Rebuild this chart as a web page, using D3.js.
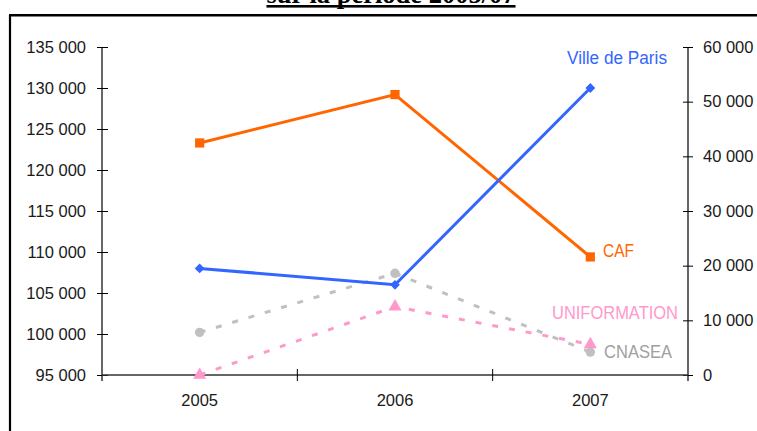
<!DOCTYPE html>
<html><head><meta charset="utf-8">
<script src="https://cdn.jsdelivr.net/npm/d3@7"></script>
<style>
html,body{margin:0;padding:0;background:#fff;overflow:hidden;}
svg{display:block;}
</style></head>
<body>
<svg id="c" width="757" height="431"></svg>
<script>
const title = "sur la période 2005/07";
const years = ["2005", "2006", "2007"];
const villeDeParis = [108000, 106000, 130000];
const caf = [123300, 129200, 109400];
const uniformation = [0, 12500, 5600];
const cnasea = [7800, 18600, 4200];
const leftTicks = [95000, 100000, 105000, 110000, 115000, 120000, 125000, 130000, 135000];
const rightTicks = [0, 10000, 20000, 30000, 40000, 50000, 60000];

const svg = d3.select("#c");
const X0 = 102, X1 = 688, Y0 = 375, Y1 = 47;

// frame
svg.append("line").attr("x1", 10).attr("x2", 10).attr("y1", 15).attr("y2", 431)
  .attr("stroke", "#000").attr("stroke-width", 2.2);
svg.append("line").attr("x1", 9).attr("x2", 757).attr("y1", 15.3).attr("y2", 15.3)
  .attr("stroke", "#000").attr("stroke-width", 2.4);

// title (cut off at top, as in the reference)
const tt = svg.append("text").attr("x", 391).attr("y", 3).attr("text-anchor", "middle")
  .attr("font-family", "Liberation Serif, serif").attr("font-weight", "bold")
  .attr("font-size", 26.5).attr("fill", "#000").text(title);
const tw = tt.node().getComputedTextLength();
svg.append("rect").attr("x", 391 - tw / 2).attr("y", 5).attr("width", tw).attr("height", 2.6).attr("fill", "#000");

const x = d3.scaleBand().domain(years).range([X0, X1]).padding(0);
const yL = d3.scaleLinear().domain([95000, 135000]).range([Y0, Y1]);
const yR = d3.scaleLinear().domain([0, 60000]).range([Y0, Y1]);
const fmt = v => d3.format(",")(v).replace(/,/g, " ");
const cx = d => x(d) + x.bandwidth() / 2;

const font = "Liberation Sans, Arial, sans-serif";

// left axis
const gL = svg.append("g").attr("transform", `translate(${X0},0)`)
  .call(d3.axisLeft(yL).tickValues(leftTicks).tickFormat(fmt).tickSizeInner(5).tickSizeOuter(0).tickPadding(11));
gL.selectAll(".tick line").attr("x2", -5).attr("x1", 6);
gL.select(".domain").attr("d", `M0,${Y1}V${Y0 + 6}`);
// right axis
const gR = svg.append("g").attr("transform", `translate(${X1},0)`)
  .call(d3.axisRight(yR).tickValues(rightTicks).tickFormat(fmt).tickSizeInner(5).tickSizeOuter(0).tickPadding(10));
gR.selectAll(".tick line").attr("x1", -5).attr("x2", 5);
gR.select(".domain").attr("d", `M0,${Y1}V${Y0 + 6}`);
// bottom axis
const gB = svg.append("g").attr("transform", `translate(0,${Y0})`)
  .call(d3.axisBottom(x).tickSize(0).tickPadding(19));
gB.select(".domain").attr("d", `M${X0},0H${X1}`);
years.slice(1).forEach(yv => {
  gB.append("line").attr("x1", x(yv)).attr("x2", x(yv)).attr("y1", -6).attr("y2", 6).attr("stroke", "#000");
});

[gL, gR, gB].forEach(g => {
  g.selectAll("text").attr("font-family", font).attr("font-size", 16.5).attr("fill", "#1a1a1a");
  g.selectAll("line").attr("stroke", "#000");
  g.select(".domain").attr("stroke", "#000").attr("stroke-width", 1.2);
});
gB.select(".domain").attr("stroke", "#333").attr("stroke-width", 1.6);

function series(vals, scale, color, dash, symbol, size, rot) {
  const line = d3.line().x((d, i) => cx(years[i])).y(d => scale(d));
  svg.append("path").attr("d", line(vals)).attr("fill", "none").attr("stroke", color)
    .attr("stroke-width", 3).attr("stroke-dasharray", dash);
  svg.selectAll(null).data(vals).enter().append("path")
    .attr("d", d3.symbol().type(symbol).size(size))
    .attr("transform", (d, i) => `translate(${cx(years[i])},${scale(d)}) rotate(${rot})`)
    .attr("fill", color);
}

series(cnasea, yR, "#c0c0c0", "6,11", d3.symbolCircle, 70, 0);
series(uniformation, yR, "#ff99cc", "6,11", d3.symbolTriangle, 75, 0);
series(caf, yL, "#ff6600", null, d3.symbolSquare, 85, 0);
series(villeDeParis, yL, "#3366ff", null, d3.symbolSquare, 48, 45);

const labels = ["CNASEA", "UNIFORMATION", "CAF", "Ville de Paris"];
const labelColors = ["#a0a0a0", "#ff99cc", "#ff6600", "#3366ff"];
const labelPos = [[604, 358.3], [552, 319.3], [603, 256.7], [567, 64.3]];
const labelSize = [18.5, 18.5, 19, 17.5];
const labelLen = [68, 126, 31, 100];
labels.forEach((l, i) => {
  svg.append("text").attr("x", labelPos[i][0]).attr("y", labelPos[i][1]).attr("font-family", font)
    .attr("font-size", labelSize[i]).attr("textLength", labelLen[i]).attr("lengthAdjust", "spacingAndGlyphs")
    .attr("fill", labelColors[i]).text(l);
});
</script>
</body></html>
